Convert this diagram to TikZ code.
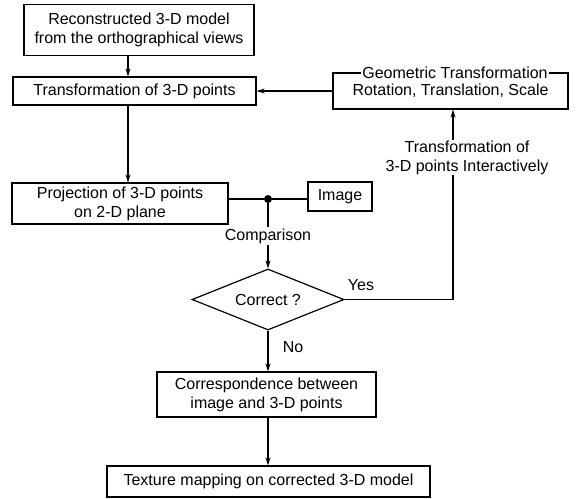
\documentclass[tikz,border=0pt]{standalone}
\usepackage{fontspec}
\setmainfont{Liberation Sans}
\usetikzlibrary{shapes.geometric,arrows.meta}
\begin{document}
\begin{tikzpicture}[x=1pt, y=-1pt,
    every node/.style ={font=\fontsize{16}{19}\selectfont},
    process/.style ={rectangle, draw, line width=1.2pt, align=center, inner sep=0pt},
    decision/.style ={diamond, draw, line width=1.2pt, inner sep=0pt, aspect=2.5,
                      minimum width=152pt, minimum height=61pt},
    caption/.style ={fill=white, inner sep=1pt, align=center},
    link/.style ={line width=1.2pt},
    flow/.style ={line width=1.2pt, -{Stealth[length=8pt,width=5pt]}}]
   \useasboundingbox (0,0) rectangle (577,498);

   \coordinate (axis) at (128,0);
   \node[process, minimum width=230pt, minimum height=51pt] (model) at (139,30)
      {Reconstructed 3-D model\\from the orthographical views};
   \node[process, minimum width=243pt, minimum height=28pt] (trans) at (134.5,91)
      {Transformation of 3-D points};
   \node[process, minimum width=235pt, minimum height=36pt] (geo) at (450.5,91)
      {Rotation, Translation, Scale};
   \node[process, minimum width=216pt, minimum height=41pt] (proj) at (120,203.5)
      {Projection of 3-D points\\on 2-D plane};
   \node[process, minimum width=64pt, minimum height=29pt] (image) at (340,196.5) {Image};
   \node[circle, fill, inner sep=0pt, minimum size=8pt] (dot) at (268,199) {};
   \node[caption] (cmp) at (268,236) {Comparison};
   \node[decision] (check) at (268,299.5) {Correct ?};
   \coordinate (turn) at (453,299.5);
   \node[caption, inner sep=0pt] (inter) at (467,157.5) {Transformation of\\3-D points Interactively};
   \node (yes) at (361,285) {Yes};
   \node (no) at (293,347) {No};
   \node[process, minimum width=219pt, minimum height=45pt] (corr) at (266.5,394.5)
      {Correspondence between\\image and 3-D points};
   \node[process, minimum width=323pt, minimum height=31pt] (tex) at (268.5,481.5)
      {Texture mapping on corrected 3-D model};

   \draw[flow] (model.south -| axis) to (trans.north -| axis);
   \draw[flow] (trans.south -| axis) to (proj.north -| axis);
   \draw[flow] (geo.west) to (trans.east);
   \draw[link] (proj.east |- dot) -- (dot) -- (image.west |- dot);
   \draw[link] (dot) to (cmp);
   \draw[flow] (cmp) to (check.north);
   \draw[link] (check.east) -- (turn) -- (turn |- inter.south);
   \draw[flow] (turn |- inter.north) to (turn |- geo.south);
   \draw[flow] (check.south) to (corr.north -| check.south);
   \draw[flow] (corr.south -| check.south) to (tex.north -| check.south);

   % title sits on the top edge of the box
   \node[caption] (geotitle) at (455,73) {Geometric Transformation};
\end{tikzpicture}
\end{document}
